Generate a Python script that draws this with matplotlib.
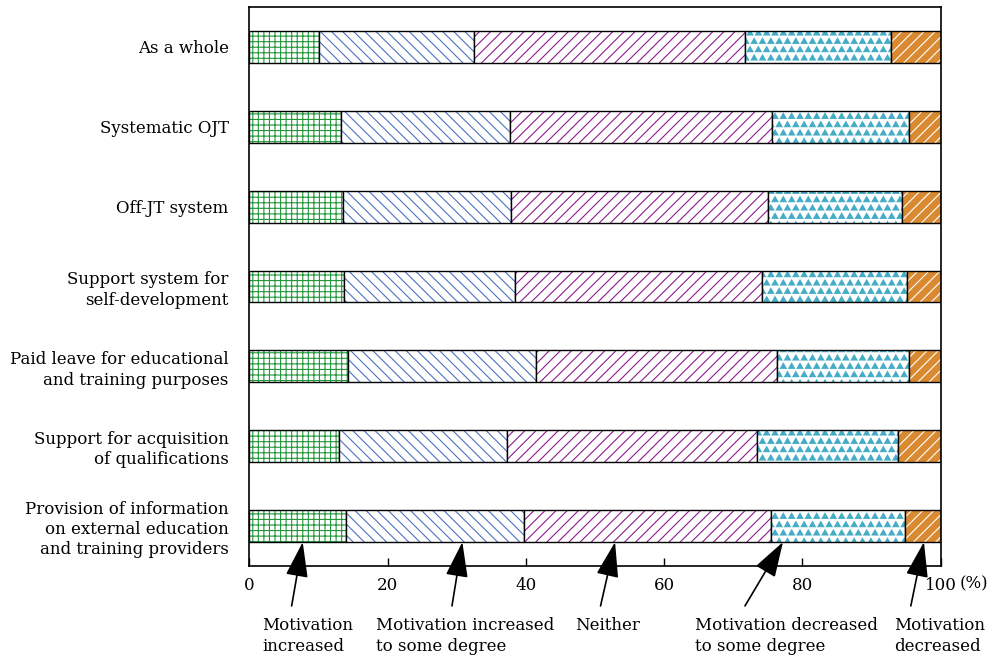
import numpy as np
import matplotlib
matplotlib.use('Agg')
import matplotlib.pyplot as plt
from matplotlib import hatch as mhatch
from matplotlib.path import Path

# Items (top to bottom) and the share of each answer (%)
items = ['As a whole',
         'Systematic OJT',
         'Off-JT system',
         'Support system for\nself-development',
         'Paid leave for educational\nand training purposes',
         'Support for acquisition\nof qualifications',
         'Provision of information\non external education\nand training providers']

increased = [10.0, 13.3, 13.6, 13.7, 14.2, 12.9, 14.0]
increased_some = [22.5, 24.4, 24.3, 24.7, 27.3, 24.4, 25.7]
neither = [39.2, 37.9, 37.1, 35.7, 34.8, 36.1, 35.7]
decreased_some = [21.1, 19.8, 19.4, 21.1, 19.1, 20.5, 19.5]
decreased = [7.2, 4.6, 5.6, 4.8, 4.6, 6.1, 5.1]

answers = ['Motivation\nincreased', 'Motivation increased\nto some degree', 'Neither',
           'Motivation decreased\nto some degree', 'Motivation\ndecreased']
x_ticks = [0, 20, 40, 60, 80, 100]


# triangle hatch in place of the star hatch ('*')
class Triangles(mhatch.Shapes):
    size = 0.4
    filled = True

    def __init__(self, hatch, density):
        self.num_rows = (hatch.count('*')) * density
        self.shape_vertices = Path.unit_regular_polygon(3).vertices
        self.shape_codes = Path.unit_regular_polygon(3).codes
        super().__init__(hatch, density)


mhatch._hatch_types = [Triangles if t is mhatch.Stars else t for t in mhatch._hatch_types]

plt.rcParams['font.family'] = 'DejaVu Serif'
plt.rcParams['hatch.linewidth'] = 0.8

fig = plt.figure(figsize=(9.96, 6.58), dpi=100)
ax = fig.add_axes([0.2505, 0.1398, 0.6938, 0.8496])

series = [increased, increased_some, neither, decreased_some, decreased]
hatch_colors = ['#23963a', '#4d72c2', '#8c1c8c', '#45acc6', 'white']
face_colors = ['white', 'white', 'white', 'white', '#d9892f']
hatches = ['+++', '\\\\\\', '///', '**', '///']

y = np.arange(len(items))
left = np.zeros(len(items))
for vals, hc, fc, h in zip(series, hatch_colors, face_colors, hatches):
    ax.barh(y, vals, left=left, height=0.4, color=fc, edgecolor=hc, hatch=h, linewidth=0)
    ax.barh(y, vals, left=left, height=0.4, fill=False, edgecolor='black', linewidth=1)
    left = left + np.array(vals)

ax.set_xlim(0, 100)
ax.set_ylim(len(items) - 0.5, -0.5)
ax.set_yticks(y)
ax.set_yticklabels(items, fontsize=12, linespacing=1.25)
ax.tick_params(axis='y', length=0, pad=15)
ax.set_xticks(x_ticks)
ax.set_xticklabels([str(t) for t in x_ticks], fontsize=12)
ax.tick_params(axis='x', direction='in', length=6, pad=8, width=1)
for s in ax.spines.values():
    s.set_linewidth(1.2)
ax.text(1.028, -0.032, '(%)', transform=ax.transAxes, fontsize=12, va='center', ha='left')

# arrows from the answer labels to the bottom bar
tips = [7.7, 30.8, 52.9, 77.2, 97.6]
tails = [6.1, 29.3, 50.8, 71.7, 95.7]
text_x = [0.263, 0.3775, 0.577, 0.698, 0.8976]
for tip, tail, tx, label in zip(tips, tails, text_x, answers):
    ax.annotate('', xy=(tip, 6.2), xytext=(tail, 7.0), annotation_clip=False,
                arrowprops=dict(arrowstyle='-|>,head_length=1.1,head_width=0.35',
                                mutation_scale=20, color='black', lw=1.2, shrinkA=0, shrinkB=0))
    fig.text(tx, 0.062, label, fontsize=12, va='top', ha='left', linespacing=1.3)

fig.savefig('out.png', dpi=100)
